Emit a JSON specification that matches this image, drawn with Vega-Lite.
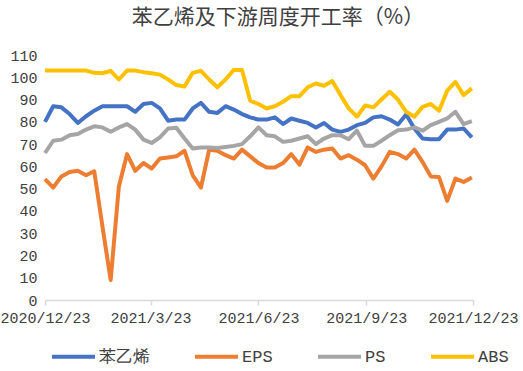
{
  "$schema": "https://vega.github.io/schema/vega-lite/v6.json",
  "width": 428,
  "height": 245,
  "autosize": "none",
  "padding": {"left": 45, "top": 55, "right": 50, "bottom": 71},
  "background": "white",
  "title": {"text": "苯乙烯及下游周度开工率（%）", "font": "Noto Sans CJK SC", "fontSize": 21, "fontWeight": "normal", "color": "#404040", "anchor": "middle", "offset": 20, "dx": 19},
  "config": {"view": {"stroke": null}},
  "data": {"values": [
    {"date": "2020/12/23", "苯乙烯": 80, "EPS": 54.3, "PS": 66, "ABS": 103},
    {"date": "2020/12/30", "苯乙烯": 87, "EPS": 50.5, "PS": 71.5, "ABS": 103},
    {"date": "2021/01/06", "苯乙烯": 86.5, "EPS": 55.5, "PS": 72, "ABS": 103},
    {"date": "2021/01/13", "苯乙烯": 83.5, "EPS": 57.5, "PS": 74, "ABS": 103},
    {"date": "2021/01/20", "苯乙烯": 79.5, "EPS": 58, "PS": 74.5, "ABS": 103},
    {"date": "2021/01/27", "苯乙烯": 82.5, "EPS": 56, "PS": 76.5, "ABS": 103},
    {"date": "2021/02/03", "苯乙烯": 85, "EPS": 57.8, "PS": 78, "ABS": 102},
    {"date": "2021/02/10", "苯乙烯": 87, "EPS": 33, "PS": 77.5, "ABS": 101.8},
    {"date": "2021/02/17", "苯乙烯": 87, "EPS": 9, "PS": 75.5, "ABS": 102.9},
    {"date": "2021/02/24", "苯乙烯": 87, "EPS": 51, "PS": 77.5, "ABS": 99},
    {"date": "2021/03/03", "苯乙烯": 87, "EPS": 65.5, "PS": 79, "ABS": 103},
    {"date": "2021/03/10", "苯乙烯": 84.5, "EPS": 58, "PS": 76.5, "ABS": 103},
    {"date": "2021/03/17", "苯乙烯": 88, "EPS": 61.5, "PS": 72, "ABS": 102.3},
    {"date": "2021/03/24", "苯乙烯": 88.5, "EPS": 59, "PS": 70.5, "ABS": 101.8},
    {"date": "2021/03/31", "苯乙烯": 86, "EPS": 63.5, "PS": 73, "ABS": 101.2},
    {"date": "2021/04/07", "苯乙烯": 80.5, "EPS": 64, "PS": 77, "ABS": 99},
    {"date": "2021/04/14", "苯乙烯": 81, "EPS": 64.5, "PS": 77.3, "ABS": 96.5},
    {"date": "2021/04/21", "苯乙烯": 81, "EPS": 67, "PS": 72.5, "ABS": 95.9},
    {"date": "2021/04/28", "苯乙烯": 86, "EPS": 56, "PS": 68, "ABS": 102},
    {"date": "2021/05/05", "苯乙烯": 88.5, "EPS": 50.5, "PS": 68.5, "ABS": 102.9},
    {"date": "2021/05/12", "苯乙烯": 84.5, "EPS": 67.5, "PS": 68.5, "ABS": 99},
    {"date": "2021/05/19", "苯乙烯": 84, "EPS": 67, "PS": 68.2, "ABS": 95.5},
    {"date": "2021/05/26", "苯乙烯": 87, "EPS": 65, "PS": 68.7, "ABS": 99},
    {"date": "2021/06/02", "苯乙烯": 85.5, "EPS": 63.5, "PS": 69.2, "ABS": 103.3},
    {"date": "2021/06/09", "苯乙烯": 83.5, "EPS": 67.5, "PS": 70, "ABS": 103.3},
    {"date": "2021/06/16", "苯乙烯": 82, "EPS": 64.5, "PS": 73.5, "ABS": 89.5},
    {"date": "2021/06/23", "苯乙烯": 81, "EPS": 61.5, "PS": 77.5, "ABS": 88},
    {"date": "2021/06/30", "苯乙烯": 81, "EPS": 59.5, "PS": 74, "ABS": 86},
    {"date": "2021/07/07", "苯乙烯": 82, "EPS": 59.5, "PS": 73.5, "ABS": 87},
    {"date": "2021/07/14", "苯乙烯": 79, "EPS": 61.5, "PS": 71, "ABS": 89},
    {"date": "2021/07/21", "苯乙烯": 81.5, "EPS": 65.5, "PS": 71.5, "ABS": 91.5},
    {"date": "2021/07/28", "苯乙烯": 80.5, "EPS": 60.8, "PS": 72.5, "ABS": 91.5},
    {"date": "2021/08/04", "苯乙烯": 79.5, "EPS": 68.5, "PS": 73.5, "ABS": 95.5},
    {"date": "2021/08/11", "苯乙烯": 77.5, "EPS": 66.5, "PS": 70, "ABS": 97.2},
    {"date": "2021/08/18", "苯乙烯": 79.5, "EPS": 67.5, "PS": 72.5, "ABS": 96.2},
    {"date": "2021/08/25", "苯乙烯": 76.5, "EPS": 68, "PS": 74, "ABS": 98.3},
    {"date": "2021/09/01", "苯乙烯": 75.5, "EPS": 63.5, "PS": 74, "ABS": 92},
    {"date": "2021/09/08", "苯乙烯": 76.5, "EPS": 65, "PS": 72.2, "ABS": 86},
    {"date": "2021/09/15", "苯乙烯": 78.5, "EPS": 63, "PS": 76, "ABS": 82.3},
    {"date": "2021/09/22", "苯乙烯": 79.5, "EPS": 60.5, "PS": 69.2, "ABS": 87.3},
    {"date": "2021/09/29", "苯乙烯": 82, "EPS": 54.5, "PS": 69.2, "ABS": 86.5},
    {"date": "2021/10/06", "苯乙烯": 82.5, "EPS": 60, "PS": 71.5, "ABS": 90},
    {"date": "2021/10/13", "苯乙烯": 81, "EPS": 66.5, "PS": 74, "ABS": 93.5},
    {"date": "2021/10/20", "苯乙烯": 78.8, "EPS": 65.5, "PS": 76.2, "ABS": 90},
    {"date": "2021/10/27", "苯乙烯": 83.3, "EPS": 63.5, "PS": 76.5, "ABS": 84.5},
    {"date": "2021/11/03", "苯乙烯": 77, "EPS": 67.5, "PS": 77.5, "ABS": 82.3},
    {"date": "2021/11/10", "苯乙烯": 72.5, "EPS": 62, "PS": 76, "ABS": 86.7},
    {"date": "2021/11/17", "苯乙烯": 72.2, "EPS": 55.5, "PS": 78.5, "ABS": 88},
    {"date": "2021/11/24", "苯乙烯": 72.2, "EPS": 55.2, "PS": 80, "ABS": 85},
    {"date": "2021/12/01", "苯乙烯": 76.5, "EPS": 44.5, "PS": 81.5, "ABS": 94},
    {"date": "2021/12/08", "苯乙烯": 76.5, "EPS": 54.5, "PS": 84.5, "ABS": 97.9},
    {"date": "2021/12/15", "苯乙烯": 77, "EPS": 53, "PS": 79, "ABS": 92},
    {"date": "2021/12/22", "苯乙烯": 73, "EPS": 55, "PS": 80.3, "ABS": 95}
  ]},
  "transform": [
    {"fold": ["苯乙烯", "EPS", "PS", "ABS"], "as": ["series", "value"]}
  ],
  "mark": {"type": "line", "strokeWidth": 4, "strokeJoin": "round", "strokeCap": "butt"},
  "encoding": {
    "x": {
      "field": "date", "type": "temporal",
      "scale": {"domain": [{"year": 2020, "month": 12, "date": 23}, {"year": 2021, "month": 12, "date": 23}], "nice": false},
      "axis": {
        "title": null,
        "values": [
          {"year": 2020, "month": 12, "date": 23},
          {"year": 2021, "month": 3, "date": 23},
          {"year": 2021, "month": 6, "date": 23},
          {"year": 2021, "month": 9, "date": 23},
          {"year": 2021, "month": 12, "date": 23}
        ],
        "format": "%Y/%-m/%-d",
        "grid": false,
        "domainColor": "#d9d9d9", "domainWidth": 1.5,
        "tickColor": "#d9d9d9", "tickSize": 5, "tickWidth": 1.5,
        "labelFont": "Liberation Mono", "labelFontSize": 15, "labelColor": "#404040",
        "labelPadding": 5, "labelOverlap": false, "labelFlush": false
      }
    },
    "y": {
      "field": "value", "type": "quantitative",
      "scale": {"domain": [0, 110], "nice": false},
      "axis": {
        "title": null, "values": [0, 10, 20, 30, 40, 50, 60, 70, 80, 90, 100, 110],
        "grid": false, "domain": false, "ticks": false,
        "labelFont": "Liberation Mono", "labelFontSize": 15, "labelColor": "#404040",
        "labelPadding": 8
      }
    },
    "color": {
      "field": "series", "type": "nominal",
      "scale": {"domain": ["苯乙烯", "EPS", "PS", "ABS"], "range": ["#4472C4", "#ED7D31", "#A5A5A5", "#FFC000"]},
      "legend": {
        "title": null, "orient": "none", "direction": "horizontal",
        "legendX": 5, "legendY": 278,
        "symbolType": "stroke", "symbolSize": 1849, "symbolStrokeWidth": 4,
        "labelFont": "Liberation Mono", "labelFontSize": 17, "labelColor": "#404040",
        "labelOffset": 2, "columnPadding": 37
      }
    }
  }
}
